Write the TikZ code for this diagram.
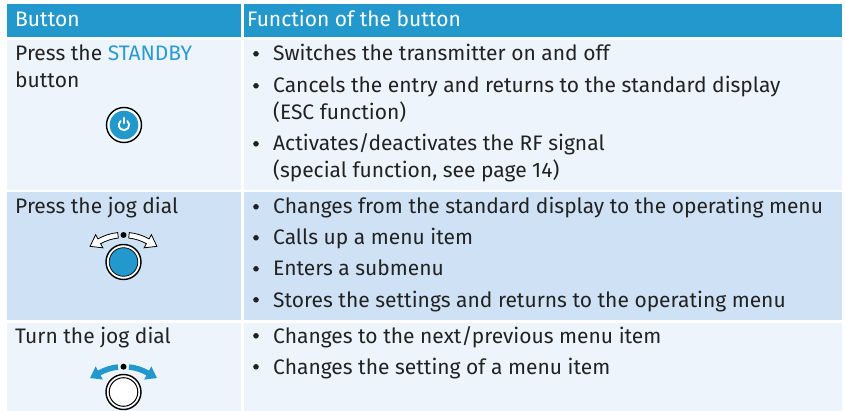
\documentclass[tikz,border=0pt]{standalone}
\usepackage{fontspec}
\setmainfont{Fira Sans}
\usetikzlibrary{calc}
\definecolor{hdr}{HTML}{2398CC}
\definecolor{rowA}{HTML}{EEF4FC}
\definecolor{rowB}{HTML}{CFE1F5}
\definecolor{ink}{HTML}{222222}
\definecolor{sb}{HTML}{2A9AD2}
\tikzset{
  txt/.style={anchor=base west, inner sep=0pt, font=\fontsize{21}{24}\selectfont, text=ink},
  hdrtxt/.style={txt, text=white},
  bul/.style={circle, fill=ink, inner sep=0pt, minimum size=5.6pt, yshift=7.2pt},
  ring/.style={draw=black, line width=1.4pt, fill=white},
  openarrow/.style={draw=black, line width=0.8pt, fill=white, line join=miter},
  bluearrow/.style={fill=hdr},
}
\newcommand\jogarrow[1]{%
  \path[#1] ($(0,50)+(-83.7:52.75)$) arc[start angle=-83.7,end angle=-61,radius=52.75]
    -- ($(0,50)+(-61:57.5)$) -- ($(0,50)+(-61:50)+(29:10.5)$)
    -- ($(0,50)+(-61:42.5)$) -- ($(0,50)+(-61:47.25)$)
    arc[start angle=-61,end angle=-83.7,radius=47.25] -- cycle;}
\begin{document}
\begin{tikzpicture}[x=1pt,y=-1pt]
\useasboundingbox (0,0) rectangle (845,411);
\fill[white] (0,0) rectangle (845,411);
% header
\fill[hdr] (7,4) rectangle (241,37);
\fill[hdr] (244,4) rectangle (842,37);
% rows
\fill[rowA] (7,40) rectangle (241,190);
\fill[rowA] (244,40) rectangle (842,190);
\fill[rowB] (7,192.5) rectangle (241,320);
\fill[rowB] (244,192.5) rectangle (842,320);
\fill[rowA] (7,323) rectangle (241,411);
\fill[rowA] (244,323) rectangle (842,411);

\node[hdrtxt] (h1) at (15,27) {Button};
\node[hdrtxt] (h2) at (247,27) {Function of the button};

% row 1
\node[txt] (l1a) at (15,61) {Press the \textcolor{sb}{STANDBY}};
\node[txt] (l1b) at (15,88) {button};
\node[bul] (b11) at (256,61) {};
\node[txt] (t11) at (273,61) {Switches the transmitter on and off};
\node[bul] (b12) at (256,93) {};
\node[txt] (t12) at (273,93) {Cancels the entry and returns to the standard display};
\node[txt] (t12b) at (273,119.5) {(ESC function)};
\node[bul] (b13) at (256,151) {};
\node[txt] (t13) at (273,151) {Activates/deactivates the RF signal};
\node[txt] (t13b) at (273,177.5) {(special function, see page 14)};

% row 2
\node[txt] (l2) at (15,214) {Press the jog dial};
\node[bul] (b21) at (256,214) {};
\node[txt] (t21) at (273,214) {Changes from the standard display to the operating menu};
\node[bul] (b22) at (256,245) {};
\node[txt] (t22) at (273,245) {Calls up a menu item};
\node[bul] (b23) at (256,276) {};
\node[txt] (t23) at (273,276) {Enters a submenu};
\node[bul] (b24) at (256,307) {};
\node[txt] (t24) at (273,307) {Stores the settings and returns to the operating menu};

% row 3
\node[txt] (l3) at (15,343) {Turn the jog dial};
\node[bul] (b31) at (256,343) {};
\node[txt] (t31) at (273,343) {Changes to the next/previous menu item};
\node[bul] (b32) at (256,374) {};
\node[txt] (t32) at (273,374) {Changes the setting of a menu item};

% power button icon
\begin{scope}[shift={(124,125)}]
  \path[ring] (0,0) circle (17.5);
  \fill[hdr] (0,0) circle (14.3);
  \draw[white, line width=1.8pt, line cap=round] (-50:5.2) arc[start angle=-50, end angle=230, radius=5.2];
  \draw[white, line width=1.8pt, line cap=round] (0,-7.2) -- (0,-1.8);
\end{scope}

% press jog dial icon
\begin{scope}[shift={(123.5,262)}]
  \path[ring] (0,0) circle (17.5);
  \path[fill=hdr, draw=black, line width=0.7pt] (0,0) circle (14.3);
\end{scope}
\begin{scope}[shift={(123.5,235)}]
  \jogarrow{openarrow}
  \begin{scope}[xscale=-1]\jogarrow{openarrow}\end{scope}
  \fill[black] (0,0) circle (3);
\end{scope}

% turn jog dial icon
\begin{scope}[shift={(123.5,392)}]
  \path[ring] (0,0) circle (17.5);
  \path[draw=black, line width=1pt, fill=white] (0,0) circle (14.3);
\end{scope}
\begin{scope}[shift={(123.5,366.7)}]
  \jogarrow{bluearrow}
  \begin{scope}[xscale=-1]\jogarrow{bluearrow}\end{scope}
  \fill[black] (0,0) circle (3);
\end{scope}
\end{tikzpicture}
\end{document}
